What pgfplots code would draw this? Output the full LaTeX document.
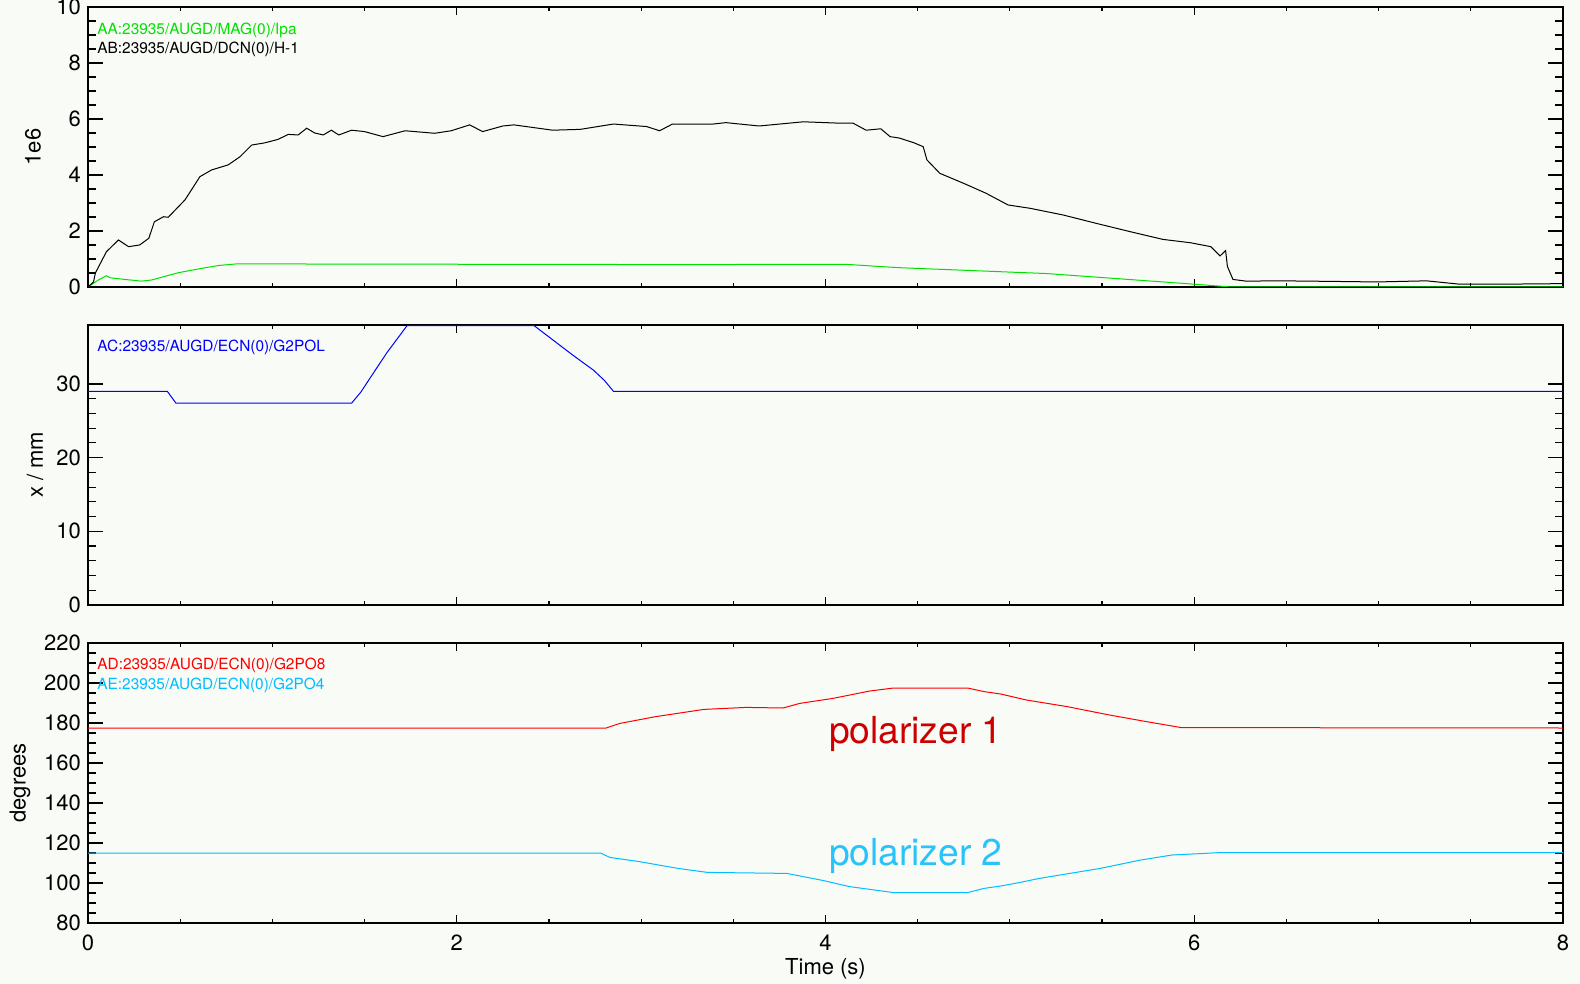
\documentclass[border=0pt]{standalone}
\usepackage{fontspec}
\setmainfont{TeX Gyre Heros}
\usepackage{pgfplots}
\pgfplotsset{compat=1.18}
\definecolor{bg}{RGB}{249,251,247}
\definecolor{lgreen}{RGB}{0,225,0}
\definecolor{lblue}{RGB}{0,0,255}
\definecolor{lred}{RGB}{255,0,0}
\definecolor{lcyan}{RGB}{0,190,255}
\definecolor{pred}{RGB}{205,0,0}
\definecolor{pcyan}{RGB}{40,195,250}
\tikzset{leg/.style={anchor=west, inner sep=0pt, font=\fontsize{7.7}{9}\selectfont}}
\pgfplotsset{
  panel/.style={
    scale only axis, width=737.5pt, height=140pt,
    anchor=north west,
    xmin=0, xmax=8, xtick={0,2,4,6,8}, minor x tick num=3,
    axis line style={line width=0.6pt},
    tick style={line width=0.6pt, black},
    xtick style={/pgfplots/major tick length=4pt, /pgfplots/minor tick length=2pt},
    ytick style={/pgfplots/major tick length=7.5pt, /pgfplots/minor tick length=4pt},
    tick label style={font=\fontsize{11}{13}\selectfont},
    label style={font=\fontsize{11}{13}\selectfont},
    /pgf/number format/assume math mode=true,
    axis background/.style={fill=bg},
  },
}
\begin{document}
\begin{tikzpicture}
\fill[bg] (-44pt,0) rectangle (746pt,-492pt);
% ---------- top panel ----------
\begin{axis}[panel, at={(0,-3.5pt)},
  ymin=0, ymax=10, ytick={0,2,4,6,8,10}, minor y tick num=3,
  xticklabels={},
  ylabel={1e6},
  ylabel style={at={(axis description cs:-0.0373,0.5)}, anchor=center}]
\addplot[lgreen, line width=0.5pt] coordinates {
(0.00,0.00) (0.056,0.25) (0.10,0.40) (0.12,0.33) (0.20,0.27) (0.29,0.21)
(0.345,0.25) (0.49,0.51) (0.62,0.67) (0.71,0.77) (0.815,0.83) (1.24,0.82)
(2.25,0.81) (3.20,0.80) (4.11,0.81) (4.30,0.73) (4.40,0.69) (5.20,0.48)
(6.00,0.10) (6.20,0.00) (8.00,0.00)};
\addplot[black, line width=0.5pt] coordinates {
(0.00,0.00) (0.03,0.18) (0.04,0.50) (0.10,1.26) (0.165,1.68) (0.22,1.44)
(0.28,1.50) (0.33,1.74) (0.36,2.33) (0.41,2.51) (0.435,2.49) (0.526,3.11)
(0.607,3.94) (0.67,4.18) (0.76,4.36) (0.824,4.65) (0.888,5.07) (0.96,5.15)
(1.03,5.27) (1.086,5.45) (1.14,5.43) (1.186,5.67) (1.23,5.50) (1.276,5.43)
(1.32,5.60) (1.36,5.43) (1.43,5.60) (1.50,5.55) (1.60,5.37) (1.72,5.58)
(1.88,5.49) (1.97,5.58) (2.07,5.79) (2.14,5.55) (2.25,5.75) (2.31,5.79)
(2.52,5.60) (2.67,5.63) (2.85,5.82) (3.03,5.73) (3.10,5.58) (3.17,5.82)
(3.39,5.82) (3.46,5.87) (3.64,5.75) (3.88,5.90) (4.08,5.85) (4.15,5.85)
(4.22,5.60) (4.30,5.65) (4.35,5.37) (4.40,5.32) (4.48,5.15) (4.53,5.01)
(4.55,4.54) (4.62,4.06) (4.75,3.70) (4.87,3.35) (4.99,2.93) (5.11,2.81)
(5.29,2.57) (5.47,2.27) (5.65,1.98) (5.83,1.70) (5.98,1.58) (6.09,1.44)
(6.14,1.11) (6.17,1.30) (6.18,0.73) (6.21,0.27) (6.28,0.21) (6.47,0.22)
(6.75,0.20) (6.99,0.18) (7.26,0.22) (7.44,0.10) (7.66,0.10) (8.00,0.12)};
\node[leg, text=lgreen] at (rel axis cs:0.0061,0.918) {AA:23935/AUGD/MAG(0)/Ipa};
\node[leg, text=black] at (rel axis cs:0.0061,0.850) {AB:23935/AUGD/DCN(0)/H-1};
\end{axis}
% ---------- middle panel ----------
\begin{axis}[panel, at={(0,-162.5pt)},
  ymin=0, ymax=38, ytick={0,10,20,30}, minor y tick num=4,
  xticklabels={},
  ylabel={x / mm},
  ylabel style={at={(axis description cs:-0.0359,0.5)}, anchor=center}]
\addplot[lblue, line width=0.5pt] coordinates {
(0,29.0) (0.43,29.0) (0.477,27.4) (1.43,27.4) (1.48,28.9) (1.53,30.8)
(1.62,34.2) (1.73,37.9) (2.42,37.9) (2.52,36.0) (2.63,33.9) (2.74,31.9)
(2.80,30.5) (2.85,29.0) (8.0,29.0)};
\node[leg, text=lblue] at (rel axis cs:0.0061,0.921) {AC:23935/AUGD/ECN(0)/G2POL};
\end{axis}
% ---------- bottom panel ----------
\begin{axis}[panel, at={(0,-321.5pt)},
  ymin=80, ymax=220, ytick={80,100,...,220}, minor y tick num=3,
  xticklabel style={yshift=-2.4pt},
  xlabel={Time (s)},
  xlabel style={at={(axis description cs:0.5,-0.164)}, anchor=center},
  ylabel={degrees},
  ylabel style={at={(axis description cs:-0.0461,0.5)}, anchor=center}]
\addplot[lred, line width=0.5pt] coordinates {
(0,177.5) (2.81,177.5) (2.885,179.8) (3.08,183.2) (3.34,186.8) (3.57,187.8)
(3.77,187.5) (3.86,189.8) (4.04,192.3) (4.24,196.0) (4.37,197.5) (4.77,197.5)
(4.86,195.7) (4.95,194.5) (5.09,191.5) (5.31,188.2) (5.54,184.0) (5.74,180.7)
(5.93,177.7) (8,177.5)};
\addplot[lcyan, line width=0.5pt] coordinates {
(0,115.0) (2.78,115.0) (2.83,112.8) (2.99,110.7) (3.20,107.3) (3.36,105.3)
(3.79,104.8) (3.99,101.2) (4.13,98.2) (4.37,95.2) (4.77,95.2) (4.86,97.3)
(4.95,98.5) (5.05,100.2) (5.16,102.3) (5.49,107.3) (5.71,111.5) (5.88,114.0)
(6.14,115.2) (8,115.2)};
\node[leg, text=lred] at (rel axis cs:0.0061,0.921) {AD:23935/AUGD/ECN(0)/G2PO8};
\node[leg, text=lcyan] at (rel axis cs:0.0061,0.850) {AE:23935/AUGD/ECN(0)/G2PO4};
\node[anchor=base, inner sep=0pt, text=pred, font=\fontsize{18.6}{20}\selectfont] at (axis cs:4.49,170) {polarizer 1};
\node[anchor=base, inner sep=0pt, text=pcyan, font=\fontsize{18.6}{20}\selectfont] at (axis cs:4.49,109) {polarizer 2};
\end{axis}
\pgfresetboundingbox
\path[use as bounding box] (-44pt,0) rectangle (746pt,-492pt);
\end{tikzpicture}
\end{document}
